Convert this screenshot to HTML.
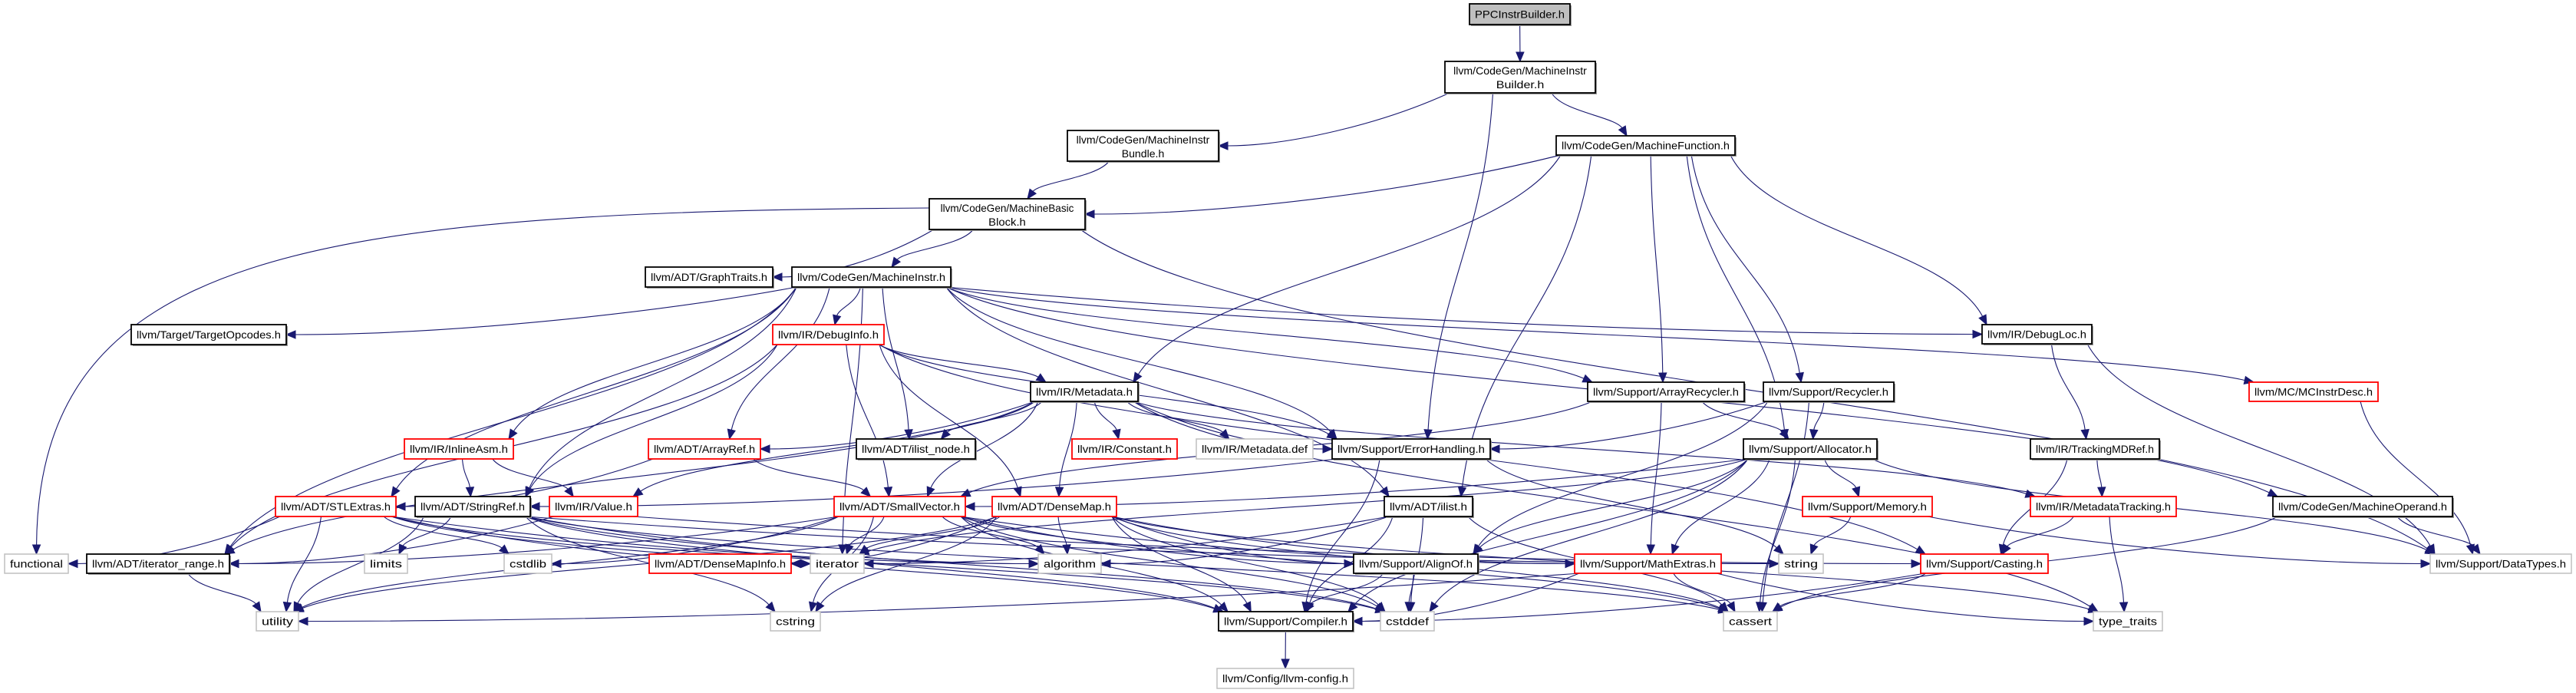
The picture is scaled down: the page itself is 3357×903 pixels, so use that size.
<!DOCTYPE html>
<html><head><meta charset="utf-8"><style>
html,body{margin:0;padding:0;background:#fff;}
svg{display:block;}
text{font-family:"Liberation Sans","DejaVu Sans",sans-serif;font-size:14px;fill:#000;}
</style></head><body>
<svg id="g" xmlns="http://www.w3.org/2000/svg" width="3357" height="903" viewBox="0 0 3357 903">
<g id="edges"></g>
<g id="nodes"></g>
</svg>
<script>
// node data: id, label lines, box [x1,x2,y1,y2], kind
const nodeIds = ["PPC","MIB","Bundle","MF","MBB","GraphTraits","MI","TargetOpcodes","DebugInfo","DebugLoc","MCInstrDesc","Metadata","ArrayRecycler","Recycler","InlineAsm","ArrayRef","ilist_node","Constant","MetadataDef","ErrH","Allocator","TrackingMDRef","STLExtras","StringRef","Value","SmallVector","DenseMap","ilist","Memory","MetadataTracking","MachineOperand","functional","iterator_range","limits","cstdlib","DenseMapInfo","iterator","algorithm","AlignOf","MathExtras","string","Casting","DataTypes","utility","cstring","Compiler","cstddef","cassert","type_traits","llvmconfig"];
const nodeLabels = [["PPCInstrBuilder.h"],["llvm/CodeGen/MachineInstr","Builder.h"],["llvm/CodeGen/MachineInstr","Bundle.h"],["llvm/CodeGen/MachineFunction.h"],["llvm/CodeGen/MachineBasic","Block.h"],["llvm/ADT/GraphTraits.h"],["llvm/CodeGen/MachineInstr.h"],["llvm/Target/TargetOpcodes.h"],["llvm/IR/DebugInfo.h"],["llvm/IR/DebugLoc.h"],["llvm/MC/MCInstrDesc.h"],["llvm/IR/Metadata.h"],["llvm/Support/ArrayRecycler.h"],["llvm/Support/Recycler.h"],["llvm/IR/InlineAsm.h"],["llvm/ADT/ArrayRef.h"],["llvm/ADT/ilist_node.h"],["llvm/IR/Constant.h"],["llvm/IR/Metadata.def"],["llvm/Support/ErrorHandling.h"],["llvm/Support/Allocator.h"],["llvm/IR/TrackingMDRef.h"],["llvm/ADT/STLExtras.h"],["llvm/ADT/StringRef.h"],["llvm/IR/Value.h"],["llvm/ADT/SmallVector.h"],["llvm/ADT/DenseMap.h"],["llvm/ADT/ilist.h"],["llvm/Support/Memory.h"],["llvm/IR/MetadataTracking.h"],["llvm/CodeGen/MachineOperand.h"],["functional"],["llvm/ADT/iterator_range.h"],["limits"],["cstdlib"],["llvm/ADT/DenseMapInfo.h"],["iterator"],["algorithm"],["llvm/Support/AlignOf.h"],["llvm/Support/MathExtras.h"],["string"],["llvm/Support/Casting.h"],["llvm/Support/DataTypes.h"],["utility"],["cstring"],["llvm/Support/Compiler.h"],["cstddef"],["cassert"],["type_traits"],["llvm/Config/llvm-config.h"]];
const nodeBoxes = [[1915,2046,5,32],[1883,2079,80,121],[1391,1588,170,210],[2028,2261,177,202],[1211,1414,259,299],[841,1007,348,374],[1032,1239,348,374],[171,373,423,449],[1007,1152,423,449],[2583,2726,423,448],[2931,3099,498,523],[1343,1483,498,523],[2069,2273,498,523],[2298,2468,498,523],[527,669,572,598],[845,991,572,598],[1116,1271,572,598],[1397,1534,572,598],[1559,1711,572,598],[1736,1942,572,598],[2272,2446,572,598],[2646,2814,572,598],[359,516,647,673],[541,691,647,673],[716,831,647,673],[1087,1258,647,673],[1293,1455,647,673],[1804,1919,647,673],[2349,2518,647,673],[2646,2836,647,673],[2962,3196,647,673],[6,89,722,747],[113,299,722,747],[475,531,722,747],[657,719,722,747],[846,1031,722,747],[1056,1126,722,747],[1353,1435,722,747],[1764,1926,722,747],[2052,2243,722,747],[2318,2376,722,747],[2503,2669,722,747],[3167,3351,722,747],[334,389,797,822],[1004,1069,797,822],[1588,1763,797,822],[1799,1869,797,822],[2246,2316,797,822],[2728,2818,797,822],[1586,1764,871,897]];
const nodeKinds = ["root","black","black","black","black","black","black","black","red","black","red","black","black","black","red","red","black","red","gray","black","black","black","red","black","red","red","red","black","red","red","black","gray","black","gray","gray","red","gray","gray","black","red","gray","red","gray","gray","gray","black","gray","gray","gray","gray"];
const edgeFrom = ["PPC","MIB","MIB","MIB","Bundle","MF","MF","MF","MF","MF","MF","MF","MBB","MBB","MBB","MBB","MI","MI","MI","MI","MI","MI","MI","MI","MI","MI","MI","MI","MI","MI","MI","DebugInfo","DebugInfo","DebugInfo","DebugInfo","DebugInfo","DebugInfo","DebugInfo","Metadata","Metadata","Metadata","Metadata","Metadata","Metadata","Metadata","Metadata","Metadata","Metadata","Metadata","InlineAsm","InlineAsm","ArrayRef","ArrayRef","STLExtras","STLExtras","STLExtras","STLExtras","STLExtras","STLExtras","STLExtras","StringRef","StringRef","StringRef","StringRef","StringRef","StringRef","StringRef","StringRef","Value","Value","Value","SmallVector","SmallVector","SmallVector","SmallVector","SmallVector","SmallVector","SmallVector","SmallVector","SmallVector","SmallVector","SmallVector","DenseMap","DenseMap","DenseMap","DenseMap","DenseMap","DenseMap","DenseMap","DenseMap","DenseMap","DenseMap","DenseMap","ilist","ilist","ilist","ilist","ilist","ErrH","ErrH","ErrH","ArrayRecycler","ArrayRecycler","ArrayRecycler","Recycler","Recycler","Recycler","Recycler","Allocator","Allocator","Allocator","Allocator","Allocator","Allocator","Allocator","Allocator","Allocator","Memory","Memory","TrackingMDRef","TrackingMDRef","MetadataTracking","MetadataTracking","MachineOperand","MachineOperand","MCInstrDesc","DebugLoc","DebugLoc","AlignOf","AlignOf","MathExtras","MathExtras","MathExtras","MathExtras","Casting","Casting","Compiler","iterator_range"];
const edgeTo = ["MIB","Bundle","MF","ErrH","MBB","MBB","Metadata","ilist","ArrayRecycler","Recycler","Allocator","DebugLoc","functional","GraphTraits","MI","DataTypes","TargetOpcodes","iterator_range","STLExtras","StringRef","InlineAsm","ArrayRef","DebugInfo","ilist_node","iterator","ArrayRecycler","DebugLoc","MCInstrDesc","MachineOperand","ilist","ErrH","Metadata","iterator_range","StringRef","SmallVector","DenseMap","ErrH","Casting","ilist_node","Constant","MetadataDef","ErrH","ArrayRef","DenseMap","SmallVector","MetadataTracking","iterator_range","Value","type_traits","StringRef","Value","STLExtras","SmallVector","functional","utility","cstdlib","iterator","cstddef","algorithm","Compiler","utility","limits","cstring","string","Compiler","algorithm","cassert","cstddef","iterator_range","StringRef","Casting","iterator_range","algorithm","cassert","cstddef","cstdlib","cstring","iterator","utility","AlignOf","Compiler","MathExtras","DenseMapInfo","AlignOf","Compiler","MathExtras","algorithm","cassert","cstddef","cstring","iterator","utility","type_traits","Compiler","algorithm","cassert","cstddef","iterator","Compiler","StringRef","string","Allocator","MathExtras","SmallVector","Allocator","AlignOf","ErrH","cassert","Memory","AlignOf","MathExtras","SmallVector","Compiler","DataTypes","cassert","cstddef","iterator","DataTypes","string","MetadataTracking","Casting","Casting","type_traits","DataTypes","cassert","DataTypes","TrackingMDRef","DataTypes","Compiler","cstddef","Compiler","cassert","type_traits","utility","cassert","Compiler","llvmconfig","utility"];
</script>
<script>
const NS = "http://www.w3.org/2000/svg";
const gE = document.getElementById("edges");
const gN = document.getElementById("nodes");
const idx = {};
nodeIds.forEach((id,i)=>idx[id]=i);
const EC = "#191970";
function box(id){const b=nodeBoxes[idx[id]];return {x1:b[0],x2:b[1],y1:b[2],y2:b[3],cx:(b[0]+b[1])/2,cy:(b[2]+b[3])/2};}
function clamp(v,a,b){return Math.max(a,Math.min(b,v));}
function arrow(tx,ty,ux,uy){
  const L=12,W=5,bx=tx-ux*L,by=ty-uy*L,px=-uy,py=ux;
  const p=document.createElementNS(NS,"polygon");
  p.setAttribute("points",`${tx},${ty} ${bx+px*W},${by+py*W} ${bx-px*W},${by-py*W}`);
  p.setAttribute("fill",EC);p.setAttribute("stroke",EC);
  
  
  gE.appendChild(p);
}
for(let i=0;i<edgeFrom.length;i++){
  const s=box(edgeFrom[i]),t=box(edgeTo[i]);
  let sx,sy,tx,ty,c1x,c1y,c2x,c2y;
  const dy=t.y1-s.y2;
  if(edgeFrom[i]==="MBB"&&edgeTo[i]==="functional"){
    sx=s.x1;sy=s.y1+12;tx=t.cx;ty=t.y1;
    c1x=400;c1y=sy+5;c2x=50;c2y=330;
  }else if(dy>5){
    sx=clamp(s.cx+(t.cx-s.cx)*0.25,s.x1+6,s.x2-6);sy=s.y2;
    const dx=Math.abs(t.cx-s.cx);
    if(dx>7*dy && dy<100){
      if(t.cx>s.cx){tx=t.x1;}else{tx=t.x2;}
      ty=t.cy;
      c1x=sx+(tx-sx)*0.3;c1y=sy+(ty-sy)*0.6;
      c2x=tx-(tx-sx)*0.3;c2y=ty;
    }else{
      tx=clamp(t.cx+(s.cx-t.cx)*0.15,t.x1+6,t.x2-6);ty=t.y1;
      c1x=sx+(tx-sx)*0.15;c1y=sy+dy*0.45;
      c2x=tx-(tx-sx)*0.15;c2y=ty-dy*0.45;
    }
  }else{
    sy=s.cy;ty=t.cy;
    if(t.cx>s.cx){sx=s.x2;tx=t.x1;}else{sx=s.x1;tx=t.x2;}
    c1x=(sx+tx)/2;c1y=sy;c2x=(sx+tx)/2;c2y=ty;
  }
  let ux=tx-c2x,uy=ty-c2y;const n=Math.hypot(ux,uy)||1;ux/=n;uy/=n;
  const ex=tx-ux*11,ey=ty-uy*11;
  const p=document.createElementNS(NS,"path");
  p.setAttribute("d",`M${sx},${sy} C${c1x},${c1y} ${c2x},${c2y} ${ex},${ey}`);
  p.setAttribute("fill","none");p.setAttribute("stroke",EC);p.setAttribute("stroke-width","1.1");
  
  
  gE.appendChild(p);
  arrow(tx,ty,ux,uy);
}
for(let i=0;i<nodeIds.length;i++){
  const b=nodeBoxes[i],k=nodeKinds[i],lines=nodeLabels[i];
  const g=document.createElementNS(NS,"g");
  
  
  const w=b[1]-b[0],h=b[3]-b[2];
  if(k==="black"||k==="root"){
    const sh=document.createElementNS(NS,"rect");
    sh.setAttribute("x",b[0]+2);sh.setAttribute("y",b[2]+2);sh.setAttribute("width",w);sh.setAttribute("height",h);
    sh.setAttribute("fill","#999");
    g.appendChild(sh);
  }
  const r=document.createElementNS(NS,"rect");
  r.setAttribute("x",b[0]);r.setAttribute("y",b[2]);r.setAttribute("width",w);r.setAttribute("height",h);
  r.setAttribute("fill",k==="root"?"#bfbfbf":"#fff");
  r.setAttribute("stroke",k==="red"?"#ff0000":(k==="gray"?"#bfbfbf":"#000"));
  r.setAttribute("stroke-width",k==="gray"?"1.5":"1.8");
  g.appendChild(r);
  lines.forEach((ln,j)=>{
    const t=document.createElementNS(NS,"text");
    const cx=(b[0]+b[1])/2;
    t.setAttribute("x",cx);t.setAttribute("y",lines.length===1?b[2]+h/2+5:(j===0?b[2]+17:b[2]+35));
    t.setAttribute("text-anchor","middle");
    const tl=lines.length===1?w-14:Math.min(w-14,ln.length*6.95);
    t.setAttribute("textLength",tl);t.setAttribute("lengthAdjust","spacingAndGlyphs");
    t.textContent=ln;
    
    
    g.appendChild(t);
  });
  gN.appendChild(g);
}
</script>
</body></html>
